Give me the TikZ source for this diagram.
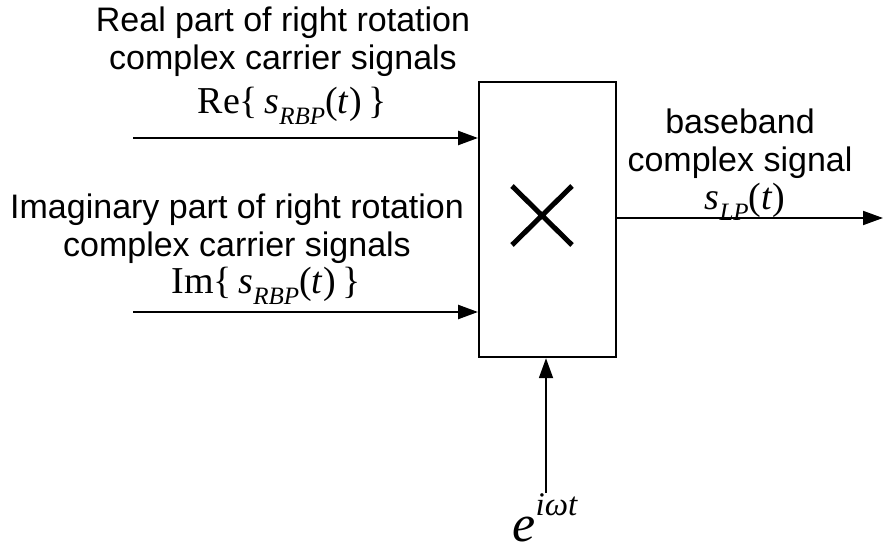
\documentclass[tikz,border=0pt]{standalone}
\usepackage{fontspec}
\setmainfont{Liberation Sans}
\newfontfamily\tms{Liberation Serif}
\usetikzlibrary{arrows.meta}
\newcommand{\subx}[1]{\raisebox{-0.3em}{\fontsize{25}{25}\selectfont\itshape #1}}
\begin{document}
\begin{tikzpicture}[x=1pt,y=-1pt,
  lbl/.style={font=\fontsize{34}{38}\selectfont, align=center, inner sep=0},
  mth/.style={font=\tms\fontsize{38}{40}\selectfont, inner sep=0},
  sig/.style={line width=2.4pt, -{Triangle[length=20pt,width=14pt]}},
  sigthin/.style={line width=1.8pt, -{Triangle[length=20pt,width=14pt]}}]
\useasboundingbox (0,0) rectangle (883,553);
\node[draw, line width=2.2pt, minimum width=137pt, minimum height=275pt, inner sep=0, anchor=north west] (mul) at (478,81) {};
\draw[line width=5pt] (512,186) -- (572,245) (512,245) -- (572,186);
\coordinate (in1) at (133,138);
\coordinate (in2) at (133,312);
\coordinate (out) at (883,218);
\coordinate (lo) at (546,493);
\draw[sig] (in1) -- (in1 -| mul.west);
\draw[sig] (in2) -- (in2 -| mul.west);
\draw[sigthin] (mul.east |- out) -- (out);
\draw[sigthin] (lo) -- (lo |- mul.south);
\node[lbl] (t1) at (283,42) {Real part of right rotation\\complex carrier signals};
\node[mth] (m1) at (292,106) {Re\{\,\textit{s}\subx{RBP}(\textit{t})\,\}};
\node[lbl] (t2) at (237,229) {Imaginary part of right rotation\\complex carrier signals};
\node[mth] (m2) at (266,286) {Im\{\,\textit{s}\subx{RBP}(\textit{t})\,\}};
\node[lbl] (t3) at (740,144) {baseband\\complex signal};
\node[mth] (m3) at (745,202) {\textit{s}\subx{LP}(\textit{t})};
\node[mth, font=\tms\fontsize{52}{52}\selectfont] (m4) at (545,518) {\textit{e}\raisebox{0.5em}{\fontsize{33}{33}\selectfont\itshape iωt}};
\end{tikzpicture}
\end{document}
